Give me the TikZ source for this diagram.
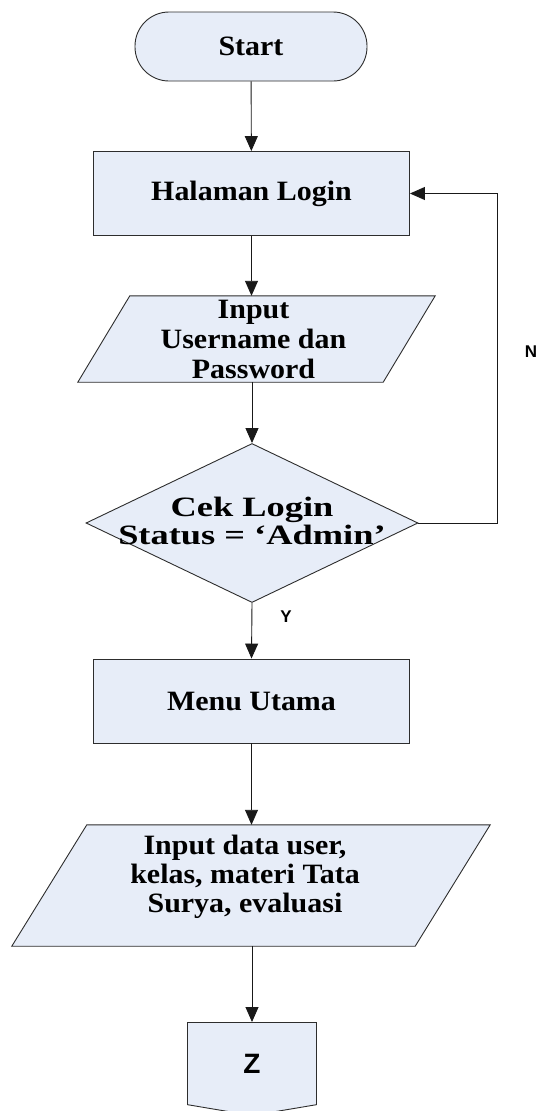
\documentclass[tikz,border=0pt]{standalone}
\usepackage{fontspec}
\usetikzlibrary{arrows.meta,shapes.geometric,shapes.symbols,backgrounds}
\newfontfamily\mainbf{Liberation Serif}[FakeStretch=1.07]
\newfontfamily\decbf{Liberation Serif}[FakeStretch=1.3]
\newfontfamily\sansbf{Liberation Sans}
\definecolor{boxfill}{RGB}{231,237,248}
\definecolor{edgecol}{RGB}{45,45,45}
\begin{document}
\begin{tikzpicture}[x=1pt,y=-1pt,
  txt/.style={font=\mainbf\bfseries\fontsize{28}{30}\selectfont, align=center},
  dectxt/.style={font=\decbf\bfseries\fontsize{28}{28}\selectfont, align=center},
  shapeline/.style={draw=edgecol, line width=0.9pt, fill=boxfill},
  base/.style={shapeline, inner sep=0pt, txt},
  terminal/.style={base, rectangle, rounded corners=34pt, minimum width=232pt, minimum height=69pt},
  procbox/.style={base, rectangle, minimum width=316pt, minimum height=84pt},
  iobody/.style={rectangle, inner sep=0pt, txt},
  decision/.style={base, diamond, inner sep=2pt, minimum width=332pt, minimum height=159pt},
  offpage/.style={base, signal, signal to=south, signal pointer angle=161, inner sep=2pt,
    minimum width=129pt, minimum height=84pt, font=\sansbf\bfseries\fontsize{28}{30}\selectfont},
  arr/.style={draw=black!90, line width=0.9pt, -{Triangle[length=15pt,width=13pt]}},
  lab/.style={font=\sansbf\bfseries\fontsize{17}{20}\selectfont, inner sep=0pt}
]
\useasboundingbox (0,0) rectangle (539,1111);

\node[terminal] (start) at (251,46.5) {Start};
\node[procbox] (login) at (251.5,193.5) {Halaman Login};
\node[iobody, minimum width=305pt, minimum height=86pt,
      label={[txt, xshift=-3pt]center:{Input\\Username dan\\Password}}] (in1) at (256.5,339) {};
\node[decision, label={[dectxt, yshift=2pt]center:{Cek Login\\Status = ‘Admin’}}] (dec) at (252,523) {};
\node[procbox] (menu) at (251.5,701) {Menu Utama};
\node[iobody, minimum width=403pt, minimum height=121pt,
      label={[txt, font=\mainbf\bfseries\fontsize{28}{29}\selectfont, yshift=9pt, xshift=-6pt]center:{Input data user,\\kelas, materi Tata\\Surya, evaluasi}}] (in2) at (251,885.5) {};
\node[offpage, anchor=north] (z) at (252,1022) {Z};

\begin{scope}[on background layer]
  \draw[shapeline] ([xshift=26pt]in1.north west) -- ([xshift=26pt]in1.north east)
    -- ([xshift=-26pt]in1.south east) -- ([xshift=-26pt]in1.south west) -- cycle;
  \draw[shapeline] ([xshift=37.5pt]in2.north west) -- ([xshift=37.5pt]in2.north east)
    -- ([xshift=-37.5pt]in2.south east) -- ([xshift=-37.5pt]in2.south west) -- cycle;
\end{scope}

\coordinate (fb) at (497,523);
\node[lab] (nlab) at (531,352) {N};
\node[lab] (ylab) at (286,617) {Y};

\draw[arr] (start) -- (login);
\draw[arr] (login.south) -- (login.south |- in1.north);
\draw[arr] (in1.south -| dec.north) -- (dec.north);
\draw[arr] (dec.east) -- (fb) |- (login.east);
\draw[arr] (dec.south) -- (menu.north);
\draw[arr] (menu.south) -- (menu.south |- in2.north);
\draw[arr] (in2.south -| z.north) -- (z.north);
\end{tikzpicture}
\end{document}
